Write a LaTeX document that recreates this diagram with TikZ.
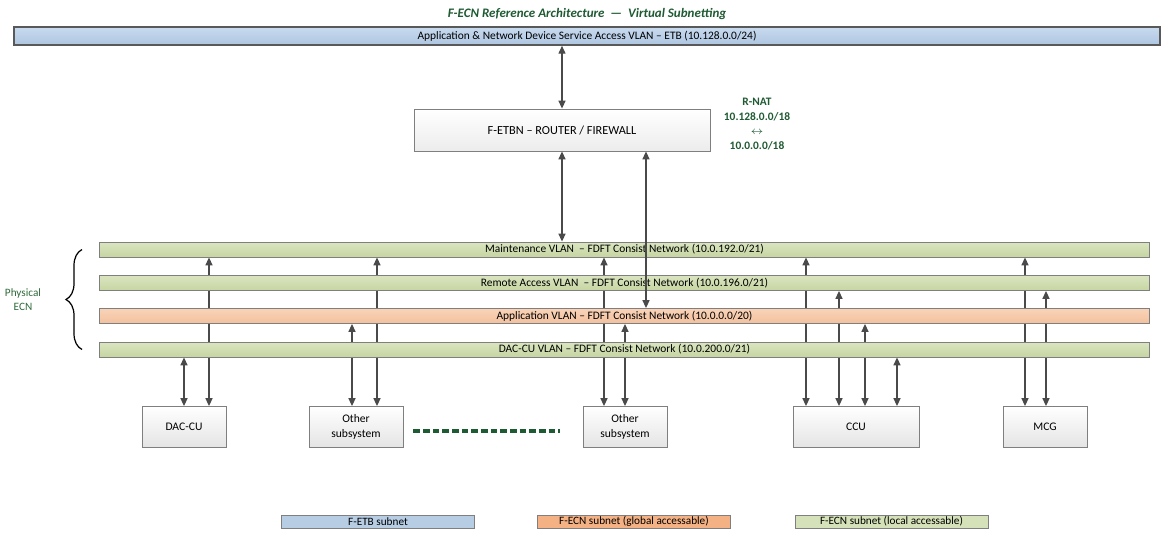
\documentclass[tikz,border=0pt]{standalone}
\usepackage{fontspec}
\setmainfont{Carlito}
\usetikzlibrary{arrows.meta, positioning, calc, decorations.pathreplacing, backgrounds}
\definecolor{etbtop}{HTML}{C8DAEE}
\definecolor{etbbot}{HTML}{AEC6E1}
\definecolor{greentop}{HTML}{DAE5C0}
\definecolor{greenbot}{HTML}{C6D5A2}
\definecolor{orangetop}{HTML}{F9D3B8}
\definecolor{orangebot}{HTML}{F2C19E}
\definecolor{legblue}{HTML}{B7CDE4}
\definecolor{legorange}{HTML}{F4B183}
\definecolor{leggreen}{HTML}{D5E1B8}
\definecolor{boxgray}{HTML}{E4E4E4}
\definecolor{darkgreen}{HTML}{1E5A32}
\definecolor{ecngreen}{HTML}{2F6B3A}
\definecolor{linkgray}{HTML}{4A4A4A}
\definecolor{framegray}{HTML}{7F7F7F}

\begin{document}
\begin{tikzpicture}[
  x=0.02cm, y=-0.02cm,
  vlan/.style={draw=framegray, line width=0.5pt, minimum width=21.02cm, minimum height=0.3cm, inner sep=0pt, font=\fontsize{6.5}{7}\selectfont},
  unit/.style={draw=framegray, line width=0.5pt, top color=white, bottom color=boxgray, minimum width=1.68cm, minimum height=0.82cm, align=center, inner sep=1pt, font=\fontsize{6.6}{8.5}\selectfont},
  legend/.style={draw=framegray, line width=0.5pt, minimum width=3.86cm, minimum height=0.26cm, inner sep=0pt, font=\fontsize{6.4}{7}\selectfont},
  link/.style={{Triangle[width=4pt,length=4.5pt]}-{Triangle[width=4pt,length=4.5pt]}, line width=0.7pt, linkgray},
  nat/.style={font=\fontsize{6.5}{8.2}\selectfont\bfseries, text=darkgreen, align=center, inner sep=0pt}
]
\useasboundingbox (0,0) rectangle (1174,532);

% Title
\node[font=\fontsize{7.4}{9}\selectfont\bfseries\itshape, text=darkgreen] (title) at (587,14)
  {F-ECN Reference Architecture \ \textemdash\ \ Virtual Subnetting};

% ETB backbone
\node[draw=black!65, line width=0.9pt, top color=etbtop, bottom color=etbbot, minimum width=22.92cm, minimum height=0.36cm, inner sep=0pt, font=\fontsize{6.5}{7}\selectfont] (etb) at (587,36)
  {Application \& Network Device Service Access VLAN -- ETB (10.128.0.0/24)};

% Router and NAT note
\node[draw=framegray, line width=0.5pt, top color=white, bottom color=boxgray!70, minimum width=5.92cm, minimum height=0.84cm, font=\fontsize{7}{8}\selectfont] (rtr) at (562,130)
  {F-ETBN -- ROUTER / FIREWALL};
\node[nat] (nat) at (757,124) {R-NAT\\10.128.0.0/18\\$\leftrightarrow$\\10.0.0.0/18};

% Consist network VLANs
\node[vlan, top color=greentop, bottom color=greenbot] (mnt) at (624.5,249.5)
  {Maintenance VLAN~ -- FDFT Consist Network (10.0.192.0/21)};
\node[vlan, top color=greentop, bottom color=greenbot] (rem) at (624.5,283)
  {Remote Access VLAN~ -- FDFT Consist Network (10.0.196.0/21)};
\node[vlan, top color=orangetop, bottom color=orangebot] (app) at (624.5,316)
  {Application VLAN -- FDFT Consist Network (10.0.0.0/20)};
\node[vlan, top color=greentop, bottom color=greenbot] (dacbar) at (624.5,349.5)
  {DAC-CU VLAN -- FDFT Consist Network (10.0.200.0/21)};

% Physical ECN brace
\draw[decorate, decoration={brace, amplitude=0.32cm}, line width=0.7pt] (dacbar.west -| 82,0) -- (mnt.west -| 82,0);
\node[text=ecngreen, align=center, font=\fontsize{6.4}{8}\selectfont] (phys) at (23,299.5) {Physical\\ECN};

% End devices
\node[unit] (dcu) at (184,427) {DAC-CU};
\node[unit, minimum width=1.88cm] (o1) at (356,427) {Other\\subsystem};
\node[unit] (o2) at (625,427) {Other\\subsystem};
\node[unit, minimum width=2.52cm] (ccu) at (856,427) {CCU};
\node[unit] (mcg) at (1045,427) {MCG};

\draw[darkgreen, line width=1.8pt, dash pattern=on 3.7pt off 1.8pt] ([shift={(10,4)}]o1.east) -- ([shift={(-23,4)}]o2.west);

% Device links (behind the VLAN bars)
\begin{pgfonlayer}{background}
\foreach \xx/\dev/\net in {184/dcu/dacbar, 209/dcu/mnt, 352/o1/app, 377/o1/mnt, 604/o2/mnt, 625/o2/app,
  806/ccu/mnt, 839/ccu/rem, 865/ccu/app, 897/ccu/dacbar, 1025/mcg/mnt, 1046/mcg/rem} {
  \draw[link] (\dev.north -| \xx,0) -- (\net.south -| \xx,0);
}
\end{pgfonlayer}

% Router links
\draw[link] (etb.south -| rtr) -- (rtr.north);
\draw[link] (rtr.south) -- (mnt.north -| rtr);
\draw[link] (rtr.south -| 646,0) -- (app.north -| 646,0);

% Legend
\node[legend, fill=legblue] (legetb) at (378,521.5) {F-ETB subnet};
\node[legend, fill=legorange] (legglob) at (634,521.5) {F-ECN subnet (global accessable)};
\node[legend, fill=leggreen] (legloc) at (891.5,521.5) {F-ECN subnet (local accessable)};
\end{tikzpicture}
\end{document}
